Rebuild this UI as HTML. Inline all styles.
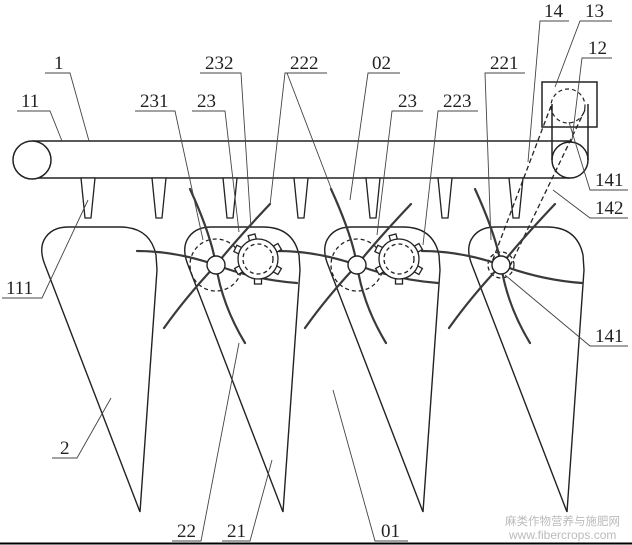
<!DOCTYPE html>
<html><head><meta charset="utf-8"><style>
html,body{margin:0;padding:0;background:#fff}
svg{display:block}
text{font-family:"Liberation Serif",serif;font-size:19px;fill:#222}
</style></head><body>
<svg width="632" height="545" viewBox="0 0 632 545" xmlns="http://www.w3.org/2000/svg">
<defs>
<g id="div">
<path d="M140,512 L45,265 Q39,250 44,240 Q51,227 68,227 L120,227 Q150,227 156,255 L157,270 Z" fill="none" stroke="#222" stroke-width="1.4"/>
</g>
<g id="tines" fill="none" stroke="#3a3a3a" stroke-width="2.2" stroke-linecap="round">
<path d="M-26,-76 Q-5,-30 0,0 Q6,40 29,78"/>
<path d="M54,-61 Q20,-25 0,0 Q-30,32 -52,63"/>
<path d="M-79,-14 Q-40,-14 0,0 Q40,15 81,18"/>
</g>
<g id="gear" fill="#fff" stroke="#222" stroke-width="1.3">
<rect x="-3.5" y="-25" width="7" height="7" transform="rotate(-15)"/>
<rect x="-3.5" y="-25" width="7" height="7" transform="rotate(60)"/>
<rect x="-3.5" y="-25" width="7" height="7" transform="rotate(120)"/>
<rect x="-3.5" y="-25" width="7" height="7" transform="rotate(180)"/>
<rect x="-3.5" y="-25" width="7" height="7" transform="rotate(240)"/>
<rect x="-3.5" y="-25" width="7" height="7" transform="rotate(295)"/>
<circle r="20"/>
<circle r="15" fill="none" stroke-dasharray="4,3"/>
</g>
</defs>

<use href="#div"/>
<use href="#div" transform="translate(143,0)"/>
<use href="#div" transform="translate(283,0)"/>
<use href="#div" transform="translate(427,0)"/>

<g fill="none" stroke="#222" stroke-width="1.5">
<line x1="32" y1="141" x2="572" y2="141"/>
<line x1="32" y1="178" x2="570" y2="178"/>
<circle cx="32" cy="160" r="19" fill="#fff"/>
<circle cx="570" cy="160" r="18" fill="#fff"/>
<rect x="542" y="82" width="55" height="45"/>
<circle cx="568" cy="106" r="17" stroke-dasharray="4,3" stroke-width="1.2"/>
<line x1="552" y1="104" x2="552" y2="160"/>
<line x1="588" y1="104" x2="588" y2="160"/>
</g>
<g fill="#fff" stroke="#222" stroke-width="1.3">
<path d="M81,178 L95,178 L91,218 L85,218 Z"/>
<path d="M152,178 L166,178 L162,218 L156,218 Z"/>
<path d="M223,178 L237,178 L233,218 L227,218 Z"/>
<path d="M294,178 L308,178 L304,218 L298,218 Z"/>
<path d="M366,178 L380,178 L376,218 L370,218 Z"/>
<path d="M438,178 L452,178 L448,218 L442,218 Z"/>
<path d="M509,178 L523,178 L519,218 L513,218 Z"/>
</g>

<g stroke="#222" stroke-width="1.3" stroke-dasharray="5,3" fill="none">
<line x1="551" y1="106" x2="492" y2="262"/>
<line x1="585" y1="110" x2="510" y2="266"/>
</g>

<g fill="none" stroke="#222" stroke-width="1.3" stroke-dasharray="4,3">
<circle cx="216" cy="265" r="26"/>
<circle cx="357" cy="265" r="26"/>
<circle cx="501" cy="265" r="13"/>
</g>
<use href="#tines" transform="translate(216,265)"/>
<use href="#tines" transform="translate(357,265)"/>
<use href="#tines" transform="translate(501,265)"/>
<use href="#gear" transform="translate(258,259)"/>
<use href="#gear" transform="translate(399,259)"/>
<g fill="#fff" stroke="#222" stroke-width="1.4">
<circle cx="216" cy="265" r="9"/>
<circle cx="357" cy="265" r="9"/>
<circle cx="501" cy="265" r="9"/>
</g>

<g stroke="#444" stroke-width="0.9" fill="none">
<polyline points="45,73 70,73 89,141"/>
<polyline points="17,111 50,111 62,141"/>
<polyline points="135,111 175,111 203,240"/>
<polyline points="192,111 225,111 239,232"/>
<polyline points="200,73 241,73 251,228"/>
<polyline points="327,73 285,73 270,205"/>
<line x1="287" y1="73" x2="331" y2="188"/>
<polyline points="400,73 368,73 350,200"/>
<polyline points="423,111 392,111 377,235"/>
<polyline points="478,111 438,111 423,245"/>
<polyline points="525,73 485,73 491,240"/>
<polyline points="569,21 540,21 528,162"/>
<polyline points="612,21 580,21 555,87"/>
<polyline points="612,58 582,58 572,140"/>
<polyline points="628,190 590,190 569,122"/>
<polyline points="628,218 590,218 553,190"/>
<polyline points="628,346 590,346 505,275"/>
<polyline points="2,298 42,298 88,200"/>
<polyline points="52,458 77,458 111,398"/>
<polyline points="172,541 201,541 239,343"/>
<polyline points="222,541 250,541 272,460"/>
<polyline points="408,541 375,541 333,390"/>
</g>

<text x="54" y="69">1</text>
<text x="21" y="107">11</text>
<text x="140" y="107">231</text>
<text x="197" y="107">23</text>
<text x="205" y="69">232</text>
<text x="290" y="69">222</text>
<text x="372" y="69">02</text>
<text x="398" y="107">23</text>
<text x="443" y="107">223</text>
<text x="490" y="69">221</text>
<text x="544" y="17">14</text>
<text x="585" y="17">13</text>
<text x="588" y="54">12</text>
<text x="595" y="186">141</text>
<text x="595" y="214">142</text>
<text x="595" y="342">141</text>
<text x="6" y="294">111</text>
<text x="60" y="454">2</text>
<text x="177" y="537">22</text>
<text x="227" y="537">21</text>
<text x="381" y="537">01</text>

<text x="505" y="525" style="font-family:'Noto Sans CJK SC',sans-serif;font-size:11.5px;fill:#bbb">麻类作物营养与施肥网</text>
<text x="509" y="539" style="font-family:'Liberation Sans',sans-serif;font-size:12px;fill:#bbb">www.fibercrops.com</text>

<line x1="0" y1="543.5" x2="632" y2="543.5" stroke="#000" stroke-width="2"/>
</svg>
</body></html>
